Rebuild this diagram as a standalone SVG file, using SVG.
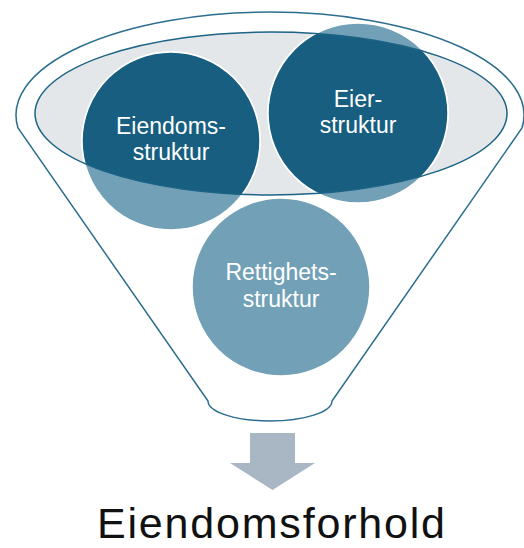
<svg xmlns="http://www.w3.org/2000/svg" width="524" height="548" viewBox="0 0 524 548">
<style>
.lbl{font-family:"Liberation Sans",Arial,sans-serif;font-size:23px;fill:#ffffff;text-anchor:middle}
.outline{fill:none;stroke:#1d6385;stroke-width:1.5}
.light{fill:#72a1b7;stroke:#ffffff;stroke-width:1.5}
.dark{fill:#175e80}
</style>
<defs>
<clipPath id="inner"><ellipse cx="271" cy="113.5" rx="236" ry="81.5"/></clipPath>
</defs>
<rect width="524" height="548" fill="#ffffff"/>
<g id="funnel">
<path d="M18,128 A254,103 0 1 1 522,128 L332,401 A62,20 0 0 1 208,401 Z" fill="#ffffff" stroke="#2b6e90" stroke-width="1.5"/>
<ellipse cx="271" cy="113.5" rx="236" ry="81.5" fill="#e4e7ea"/>
</g>
<g id="eiendomsstruktur">
<circle class="light" cx="171" cy="141" r="89"/>
<circle class="dark" cx="171" cy="141" r="89" clip-path="url(#inner)"/>
<circle cx="171" cy="141" r="89" fill="none" stroke="#ffffff" stroke-width="1.5" clip-path="url(#inner)"/>
</g>
<g id="eierstruktur">
<circle class="light" cx="358" cy="113" r="90"/>
<circle class="dark" cx="358" cy="113" r="90" clip-path="url(#inner)"/>
<circle cx="358" cy="113" r="90" fill="none" stroke="#ffffff" stroke-width="1.5" clip-path="url(#inner)"/>
</g>
<ellipse class="outline" cx="271" cy="113.5" rx="236" ry="81.5"/>
<g id="rettighetsstruktur">
<circle class="light" cx="281" cy="287" r="89"/>
</g>
<g id="labels">
<text class="lbl" x="171" y="134">Eiendoms-</text>
<text class="lbl" x="171" y="160">struktur</text>
<text class="lbl" x="358" y="107">Eier-</text>
<text class="lbl" x="358" y="133">struktur</text>
<text class="lbl" x="281" y="280">Rettighets-</text>
<text class="lbl" x="281" y="307">struktur</text>
</g>
<g id="connectors">
<polygon points="250,433 295,433 295,463 315,463 272.5,490 230,463 250,463" fill="#a9b6c3"/>
</g>
<g id="result">
<text x="97" y="538" font-family="Liberation Sans, Arial, sans-serif" font-size="43" fill="#111111" textLength="348" lengthAdjust="spacing">Eiendomsforhold</text>
</g>
</svg>
